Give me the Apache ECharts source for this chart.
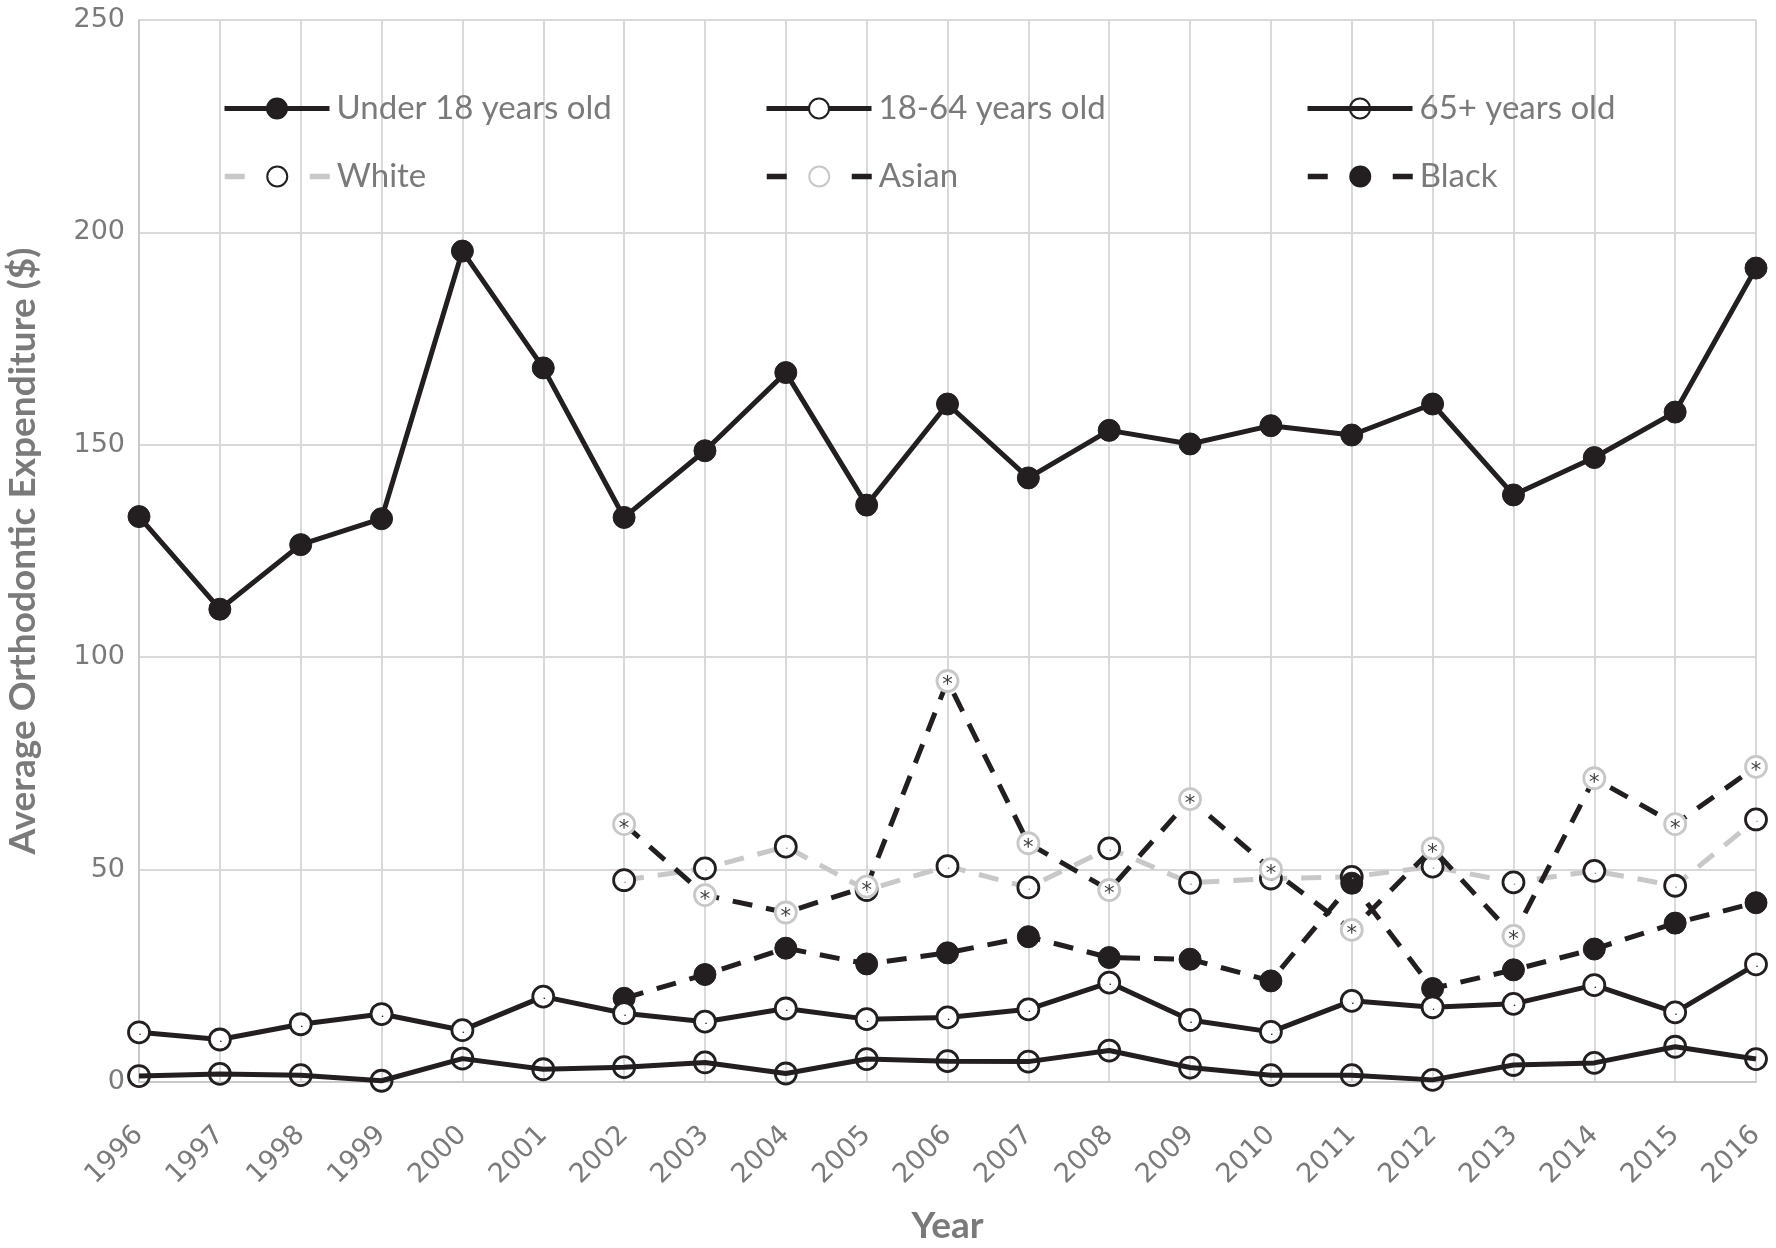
<!DOCTYPE html>
<html><head><meta charset="utf-8">
<script src="https://cdn.jsdelivr.net/npm/echarts@6/dist/echarts.min.js"></script>
<style>html,body{margin:0;padding:0;background:#fff}#c{width:1776px;height:1248px}</style>
</head><body><div id="c"></div>
<script>
const years = ['1996','1997','1998','1999','2000','2001','2002','2003','2004','2005','2006','2007','2008','2009','2010','2011','2012','2013','2014','2015','2016'];
const yTicks = [0, 50, 100, 150, 200, 250];
const under18 = [133.1,111.3,126.5,132.6,195.6,168.1,132.9,148.6,167.0,135.8,159.6,142.2,153.4,150.2,154.5,152.3,159.6,138.2,147.0,157.7,191.6];
const age18to64 = [11.7,10.0,13.6,16.0,12.2,20.1,16.2,14.2,17.3,14.8,15.2,17.1,23.4,14.6,11.8,19.1,17.6,18.4,22.8,16.4,27.7];
const age65plus = [1.4,1.9,1.6,0.3,5.5,3.0,3.5,4.6,2.0,5.4,4.9,4.8,7.4,3.4,1.6,1.6,0.5,4.0,4.5,8.3,5.4];
const white = [null,null,null,null,null,null,47.5,50.3,55.4,45.2,50.8,45.8,55.0,46.9,47.9,48.3,50.7,47.0,49.7,46.2,61.8];
const asian = [null,null,null,null,null,null,60.7,44.0,39.9,46.0,94.4,56.2,45.2,66.6,50.1,35.8,55.0,34.4,71.5,60.7,74.2];
const black = [null,null,null,null,null,null,19.7,25.3,31.5,27.8,30.4,34.2,29.3,28.9,23.8,46.8,22.0,26.4,31.3,37.4,42.2];

const names = ['Under 18 years old','18-64 years old','65+ years old','White','Asian','Black'];
const INK = '#231f20';
const GRAY = '#7a7a7a';
const dash = [20, 14];
const dotLabel = (c) => ({show:true, position:'inside', formatter:'\u2022', fontSize:6, color:c, offset:[1,2]});

const chart = echarts.init(document.getElementById('c'), null, {renderer:'canvas'});
const legendPos = [[217,87],[759,87],[1300,87],[217,155],[759,155],[1300,155]];
const legendDash = [null,null,null,[20,65],[20,65],[20,65]];
const legends = names.map((n,i)=>({
  data:[n], left:legendPos[i][0], top:legendPos[i][1], itemWidth:105, itemHeight:25, itemGap:0,
  lineStyle: legendDash[i] ? {width:5.5, type:legendDash[i]} : {width:5},
  textStyle:{fontFamily:'Lato', fontSize:33, color:GRAY, padding:[0,0,0,2]}, selectedMode:false
}));
chart.setOption({
  animation:false,
  backgroundColor:'#fff',
  grid:{left:139, right:20, top:20, bottom:166, outerBoundsMode:'none', containLabel:false},
  legend:legends,
  xAxis:{type:'category', data:years, boundaryGap:false,
    axisLine:{show:true, lineStyle:{color:'#c8c8c8', width:2}},
    axisTick:{show:false},
    splitLine:{show:true, lineStyle:{color:'#d9d9d9', width:2}},
    axisLabel:{rotate:45, margin:49, fontFamily:'DejaVu Sans', fontSize:27, color:GRAY, interval:0},
    name:'Year', nameLocation:'middle', nameGap:126,
    nameTextStyle:{fontFamily:'Lato', fontWeight:'bold', fontSize:37, color:GRAY}
  },
  yAxis:{type:'value', min:yTicks[0], max:yTicks[yTicks.length-1], interval:50,
    axisLine:{show:true, lineStyle:{color:'#c8c8c8', width:2}},
    axisTick:{show:false},
    splitLine:{show:true, lineStyle:{color:'#d9d9d9', width:2}},
    axisLabel:{fontFamily:'DejaVu Sans', fontSize:27, color:GRAY, margin:14},
    name:'Average Orthodontic Expenditure ($)', nameLocation:'middle', nameGap:97,
    nameTextStyle:{fontFamily:'Lato', fontWeight:'bold', fontSize:37, color:GRAY}
  },
  series:[
    {name:names[0], type:'line', data:under18, symbol:'circle', symbolSize:22, showAllSymbol:true,
      lineStyle:{color:INK, width:5}, itemStyle:{color:INK, borderColor:INK, borderWidth:1}, z:3},
    {name:names[1], type:'line', data:age18to64, symbol:'circle', symbolSize:21, showAllSymbol:true,
      lineStyle:{color:INK, width:5}, itemStyle:{color:'#fff', borderColor:INK, borderWidth:2.8},
      label:dotLabel(INK), z:4},
    {name:names[2], type:'line', data:age65plus, symbol:'circle', symbolSize:21, showAllSymbol:true,
      lineStyle:{color:INK, width:5}, itemStyle:{color:'rgba(255,255,255,0)', borderColor:INK, borderWidth:2.8}, z:3},
    {name:names[3], type:'line', data:white, symbol:'circle', symbolSize:21, showAllSymbol:true,
      lineStyle:{color:'#c8c8c8', width:5, type:dash}, itemStyle:{color:'#fff', borderColor:INK, borderWidth:2.8},
      label:dotLabel('#999'), z:2},
    {name:names[4], type:'line', data:asian, symbol:'circle', symbolSize:21, showAllSymbol:true,
      lineStyle:{color:INK, width:5, type:dash}, itemStyle:{color:'#fff', borderColor:'#c8c8c8', borderWidth:2.8},
      label:{show:true, position:'inside', formatter:'*', fontFamily:'DejaVu Sans', fontSize:21, color:'#404040', offset:[0,5]}, z:2},
    {name:names[5], type:'line', data:black, symbol:'circle', symbolSize:22, showAllSymbol:true,
      lineStyle:{color:INK, width:5, type:dash}, itemStyle:{color:INK, borderColor:INK, borderWidth:1}, z:2}
  ]
});
</script></body></html>
